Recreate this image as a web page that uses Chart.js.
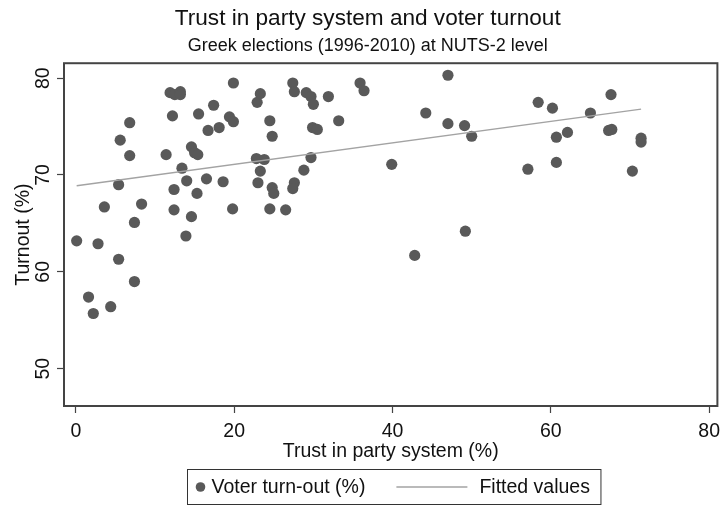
<!DOCTYPE html>
<html>
<head>
<meta charset="utf-8">
<script src="https://cdn.jsdelivr.net/npm/chart.js@4/dist/chart.umd.min.js"></script>
<style>
  html, body { margin: 0; padding: 0; background: #fff; }
  #wrap { width: 723px; height: 506px; }
</style>
</head>
<body>
<div id="wrap"><canvas id="c" width="723" height="506"></canvas></div>
<script>
// Trust in party system (%) per region-election
const trust = [
  0.1, 2.8, 1.6, 2.2, 4.4, 3.6, 5.4, 5.4, 5.6, 6.8,
  6.8, 7.4, 7.4, 8.3, 11.4, 11.9, 12.5, 13.2, 13.2, 12.2,
  12.4, 12.4, 13.4, 14.0, 13.9, 14.6, 15.0, 15.4, 15.3, 14.6,
  15.5, 16.5, 16.7, 17.4, 18.1, 18.6, 19.4, 19.9, 19.8, 19.9,
  22.8, 23.8, 23.3, 23.0, 22.9, 23.3, 24.5, 24.8, 24.8, 25.0,
  24.5, 26.5, 27.4, 27.6, 29.1, 29.7, 30.0, 31.9, 29.9, 30.5,
  33.2, 29.7, 28.8, 27.6, 27.4, 35.9, 36.4, 39.9, 44.2, 47.0,
  47.0, 49.1, 50.0, 49.2, 42.8, 57.1, 58.4, 60.2, 60.7, 60.7,
  62.1, 65.0, 67.6, 67.3, 67.7, 70.3, 71.4, 71.4
];
// Voter turn-out (%) for the same observations
const turnout = [
  63.2, 62.9, 57.4, 55.7, 56.4, 66.7, 61.3, 69.0, 73.6, 75.4,
  72.0, 65.1, 59.0, 67.0, 72.1, 78.5, 78.3, 78.6, 78.3, 76.1,
  68.5, 66.4, 70.7, 69.4, 63.7, 72.9, 72.3, 72.1, 68.1, 65.7,
  76.3, 69.6, 74.6, 77.2, 74.9, 69.3, 76.0, 75.5, 66.5, 79.5,
  71.7, 71.6, 70.4, 69.2, 77.5, 78.4, 75.6, 74.0, 68.7, 68.1,
  66.5, 66.4, 79.5, 78.6, 78.5, 78.1, 77.3, 78.1, 74.9, 74.7,
  75.6, 71.8, 70.5, 69.2, 68.6, 79.5, 78.7, 71.1, 76.4, 80.3,
  75.3, 75.1, 74.0, 64.2, 61.7, 70.6, 77.5, 76.9, 73.9, 71.3,
  74.4, 76.4, 78.3, 74.6, 74.7, 70.4, 73.8, 73.4
];
// Fitted line end points
const fitTrust = [0.1, 71.4];
const fitTurnout = [68.9, 76.8];

// Axis tick values
const xTicks = [0, 20, 40, 60, 80];
const yTicks = [50, 60, 70, 80];

const FONT = "'Liberation Sans', Arial, sans-serif";
const POINT_COLOR = '#595959';
const FIT_COLOR = '#a3a3a3';
const AXIS_COLOR = '#444444';

const scatterPts = trust.map((x, i) => ({ x: x, y: turnout[i] }));
const fitPts = fitTrust.map((x, i) => ({ x: x, y: fitTurnout[i] }));

// Plot region frame
const framePlugin = {
  id: 'frame',
  beforeDatasetsDraw(chart) {
    const a = chart.chartArea;
    const ctx = chart.ctx;
    ctx.save();
    ctx.strokeStyle = AXIS_COLOR;
    ctx.lineWidth = 2;
    ctx.strokeRect(a.left, a.top, a.right - a.left, a.bottom - a.top);
    ctx.restore();
  }
};

// Boxed legend below the x-axis title
const boxLegend = {
  id: 'boxLegend',
  afterDraw(chart) {
    const ctx = chart.ctx;
    const a = chart.chartArea;
    const ds = chart.data.datasets;
    const pointDs = ds[1], lineDs = ds[0];
    ctx.save();
    ctx.font = "19.5px " + FONT;
    const w1 = ctx.measureText(pointDs.label).width;
    const w2 = ctx.measureText(lineDs.label).width;
    const padL = 8, markW = 10, gap1 = 6, gap2 = 31, lineW = 71, gap3 = 12, padR = 11;
    const boxW = padL + markW + gap1 + w1 + gap2 + lineW + gap3 + w2 + padR;
    const cx = (a.left + a.right) / 2 + 3;
    const left = Math.round(cx - boxW / 2) + 0.5;
    const top = chart.height - 36.5;
    const h = 35;
    const midY = top + h / 2;
    ctx.fillStyle = '#ffffff';
    ctx.fillRect(left, top, boxW, h);
    ctx.strokeStyle = '#333333';
    ctx.lineWidth = 1;
    ctx.strokeRect(left, top, boxW, h);
    let x = left + padL;
    ctx.fillStyle = POINT_COLOR;
    ctx.beginPath();
    ctx.arc(x + markW / 2, midY, 4.8, 0, Math.PI * 2);
    ctx.fill();
    x += markW + gap1;
    ctx.fillStyle = '#111111';
    ctx.textBaseline = 'middle';
    ctx.textAlign = 'left';
    ctx.fillText(pointDs.label, x, midY + 1);
    x += w1 + gap2;
    ctx.strokeStyle = FIT_COLOR;
    ctx.lineWidth = 1.5;
    ctx.beginPath();
    ctx.moveTo(x, midY);
    ctx.lineTo(x + lineW, midY);
    ctx.stroke();
    x += lineW + gap3;
    ctx.fillText(lineDs.label, x, midY + 1);
    ctx.restore();
  }
};

new Chart(document.getElementById('c'), {
  type: 'scatter',
  data: {
    datasets: [
      {
        type: 'line',
        label: 'Fitted values',
        data: fitPts,
        borderColor: FIT_COLOR,
        borderWidth: 1.5,
        pointRadius: 0,
        fill: false,
        order: 0
      },
      {
        label: 'Voter turn-out (%)',
        data: scatterPts,
        backgroundColor: POINT_COLOR,
        borderWidth: 0,
        pointRadius: 5.6,
        pointHoverRadius: 5.6,
        order: 1
      }
    ]
  },
  options: {
    responsive: false,
    animation: false,
    events: [],
    layout: { padding: { left: 14, right: 1.5, top: 0, bottom: 45 } },
    plugins: {
      legend: { display: false },
      tooltip: { enabled: false },
      title: {
        display: true,
        text: 'Trust in party system and voter turnout',
        color: '#111111',
        font: { family: FONT, size: 22.6, weight: 'normal', lineHeight: 1.2 },
        padding: { top: 5.5, bottom: 0 }
      },
      subtitle: {
        display: true,
        text: 'Greek elections (1996-2010) at NUTS-2 level',
        color: '#111111',
        font: { family: FONT, size: 18, weight: 'normal', lineHeight: 1.2 },
        padding: { top: 2.6, bottom: 6.4 }
      }
    },
    scales: {
      x: {
        type: 'linear',
        min: -1.5,
        max: 81.04,
        afterBuildTicks(scale) { scale.ticks = xTicks.map(v => ({ value: v })); },
        afterFit(scale) { scale.paddingLeft = 0; scale.paddingRight = 0; },
        border: { display: false },
        grid: {
          display: true,
          drawOnChartArea: false,
          drawTicks: true,
          tickLength: 7,
          tickColor: AXIS_COLOR,
          tickWidth: 1.2
        },
        ticks: {
          color: '#111111',
          font: { family: FONT, size: 19.5, lineHeight: 1.0 },
          padding: 9,
          maxRotation: 0,
          autoSkip: false
        },
        title: {
          display: true,
          text: 'Trust in party system (%)',
          color: '#111111',
          font: { family: FONT, size: 19.5, lineHeight: 1.0 },
          padding: { top: -9, bottom: 0 }
        }
      },
      y: {
        type: 'linear',
        min: 46.15,
        max: 81.54,
        afterBuildTicks(scale) { scale.ticks = yTicks.map(v => ({ value: v })); },
        border: { display: false },
        grid: {
          display: true,
          drawOnChartArea: false,
          drawTicks: true,
          tickLength: 7,
          tickColor: AXIS_COLOR,
          tickWidth: 1.2
        },
        ticks: {
          color: '#111111',
          font: { family: FONT, size: 19.5, lineHeight: 1.0 },
          padding: 3,
          minRotation: 90,
          maxRotation: 90,
          crossAlign: 'center',
          autoSkip: false
        },
        title: {
          display: true,
          text: 'Turnout (%)',
          color: '#111111',
          font: { family: FONT, size: 19.5, lineHeight: 1.0 },
          padding: { top: 0, bottom: -2 }
        }
      }
    }
  },
  plugins: [framePlugin, boxLegend]
});
</script>
</body>
</html>
